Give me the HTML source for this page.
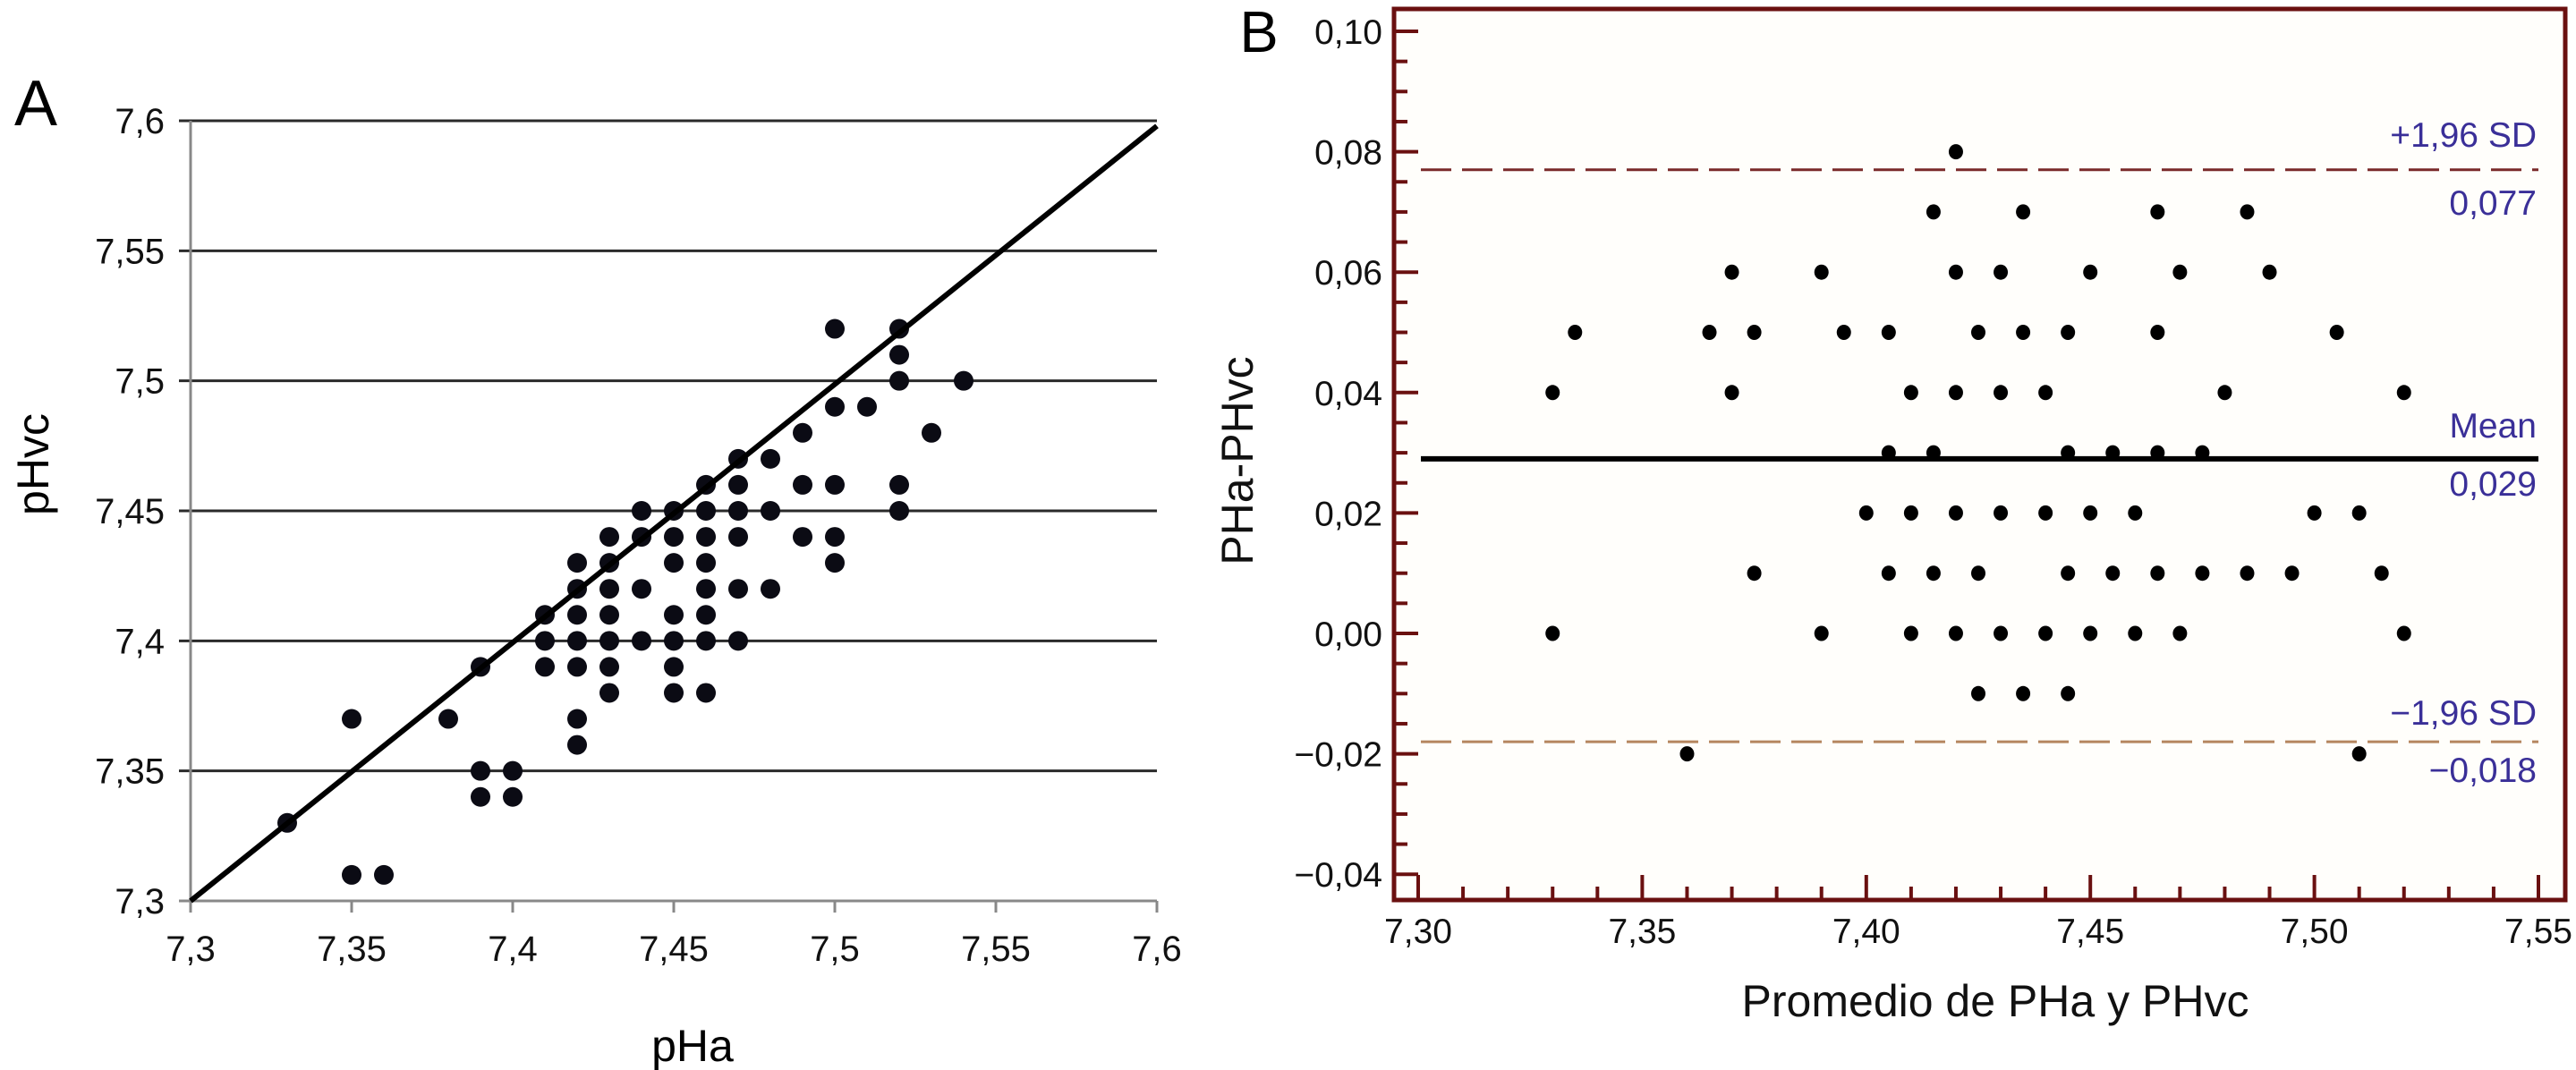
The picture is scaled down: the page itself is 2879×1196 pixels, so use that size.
<!DOCTYPE html>
<html><head><meta charset="utf-8"><style>
html,body{margin:0;padding:0;background:#fff;}
svg{display:block;font-family:"Liberation Sans",sans-serif;}
</style></head><body>
<svg id="fig" width="2879" height="1196" viewBox="0 0 2879 1196" xmlns="http://www.w3.org/2000/svg">
<g id="panelA"></g>
<g id="panelB"></g>
</svg>
<script>
// ---- Panel A data ----
const aTicks = [7.3, 7.35, 7.4, 7.45, 7.5, 7.55, 7.6];
const aTickLabels = ["7,3","7,35","7,4","7,45","7,5","7,55","7,6"];
const aX = [7.33,7.35,7.35,7.36,7.38,7.39,7.39,7.39,7.40,7.40,7.41,7.41,7.41,
 7.42,7.42,7.42,7.42,7.42,7.42,7.42,
 7.43,7.43,7.43,7.43,7.43,7.43,7.43,
 7.44,7.44,7.44,7.44,
 7.45,7.45,7.45,7.45,7.45,7.45,7.45,
 7.46,7.46,7.46,7.46,7.46,7.46,7.46,7.46,
 7.47,7.47,7.47,7.47,7.47,7.47,
 7.48,7.48,7.48,7.49,7.49,7.49,
 7.50,7.50,7.50,7.50,7.50,7.51,
 7.52,7.52,7.52,7.52,7.52,7.53,7.54];
const aY = [7.33,7.37,7.31,7.31,7.37,7.39,7.35,7.34,7.35,7.34,7.41,7.40,7.39,
 7.43,7.42,7.41,7.40,7.39,7.37,7.36,
 7.44,7.43,7.42,7.41,7.40,7.39,7.38,
 7.45,7.44,7.42,7.40,
 7.45,7.44,7.43,7.41,7.40,7.39,7.38,
 7.46,7.45,7.44,7.43,7.42,7.41,7.40,7.38,
 7.47,7.46,7.45,7.44,7.42,7.40,
 7.47,7.45,7.42,7.48,7.46,7.44,
 7.52,7.49,7.46,7.44,7.43,7.49,
 7.52,7.51,7.50,7.46,7.45,7.48,7.50];
const aFitStart = [7.3, 7.3];
const aFitEnd = [7.6, 7.598];

// ---- Panel B data ----
const bXTicks = [7.30,7.35,7.40,7.45,7.50,7.55];
const bXTickLabels = ["7,30","7,35","7,40","7,45","7,50","7,55"];
const bYTicks = [0.10,0.08,0.06,0.04,0.02,0.00,-0.02,-0.04];
const bYTickLabels = ["0,10","0,08","0,06","0,04","0,02","0,00","\u22120,02","\u22120,04"];
const bX = [7.42,
 7.415,7.435,7.465,7.485,
 7.37,7.39,7.42,7.43,7.45,7.47,7.49,
 7.335,7.365,7.375,7.395,7.405,7.425,7.435,7.445,7.465,7.505,
 7.33,7.37,7.41,7.42,7.43,7.44,7.48,7.52,
 7.405,7.415,7.445,7.455,7.465,7.475,
 7.40,7.41,7.42,7.43,7.44,7.45,7.46,7.50,7.51,
 7.375,7.405,7.415,7.425,7.445,7.455,7.465,7.475,7.485,7.495,7.515,
 7.33,7.39,7.41,7.42,7.43,7.44,7.45,7.46,7.47,7.52,
 7.425,7.435,7.445,
 7.36,7.51];
const bY = [0.08,
 0.07,0.07,0.07,0.07,
 0.06,0.06,0.06,0.06,0.06,0.06,0.06,
 0.05,0.05,0.05,0.05,0.05,0.05,0.05,0.05,0.05,0.05,
 0.04,0.04,0.04,0.04,0.04,0.04,0.04,0.04,
 0.03,0.03,0.03,0.03,0.03,0.03,
 0.02,0.02,0.02,0.02,0.02,0.02,0.02,0.02,0.02,
 0.01,0.01,0.01,0.01,0.01,0.01,0.01,0.01,0.01,0.01,0.01,
 0,0,0,0,0,0,0,0,0,0,
 -0.01,-0.01,-0.01,
 -0.02,-0.02];
const bMean = [0.029];
const bUpper = [0.077];
const bLower = [-0.018];
const bRefLabels = ["+1,96 SD","0,077","Mean","0,029","\u22121,96 SD","\u22120,018"];

const NS = "http://www.w3.org/2000/svg";
function mk(parent, tag, attrs, text){
  const e = document.createElementNS(NS, tag);
  for (const k in attrs) e.setAttribute(k, attrs[k]);
  if (text !== undefined) e.textContent = text;
  parent.appendChild(e);
  return e;
}

// ---- Panel A ----
const gA = document.getElementById('panelA');
const ax = v => 213 + (v - 7.3) / 0.3 * 1080;
const ay = v => 1007 - (v - 7.3) / 0.3 * 872;

let t = mk(gA,'text',{x:40,y:140,'font-size':72,'text-anchor':'middle'},'A');



aTicks.forEach((v,i)=>{
  if (i>0){
    const l = mk(gA,'line',{x1:200,x2:1293,y1:ay(v),y2:ay(v),stroke:'#2a2a2a','stroke-width':3});
    
    
  }
  const yl = mk(gA,'text',{x:184,y:ay(v)+14,'font-size':40,'text-anchor':'end',fill:'#111'},aTickLabels[i]);
  
  
  const tk = mk(gA,'line',{x1:ax(v),x2:ax(v),y1:1007,y2:1020,stroke:'#888','stroke-width':3});
  
  
  const xl = mk(gA,'text',{x:ax(v),y:1074,'font-size':40,'text-anchor':'middle',fill:'#111'},aTickLabels[i]);
  
  
});
let axl = mk(gA,'line',{x1:213,x2:213,y1:135,y2:1007,stroke:'#888','stroke-width':3});


axl = mk(gA,'line',{x1:200,x2:1293,y1:1007,y2:1007,stroke:'#888','stroke-width':3});



for (let i=0;i<aX.length;i++){
  const c = mk(gA,'circle',{cx:ax(aX[i]),cy:ay(aY[i]),r:11,fill:'#0b0b14'});
  
  
}
const fit = mk(gA,'line',{x1:ax(aFitStart[0]),y1:ay(aFitStart[1]),x2:ax(aFitEnd[0]),y2:ay(aFitEnd[1]),stroke:'#000','stroke-width':6});



t = mk(gA,'text',{x:774,y:1186,'font-size':50,'text-anchor':'middle'},'pHa');


t = mk(gA,'text',{x:0,y:0,'font-size':50,'text-anchor':'middle',transform:'translate(54,519) rotate(-90)'},'pHvc');



// ---- Panel B ----
const gB = document.getElementById('panelB');
const bx = v => 1585 + (v - 7.30) / 0.25 * 1252;
const by = v => 708 - v / 0.02 * 134.6;
const frameColor = '#6a1010';

t = mk(gB,'text',{x:1407,y:58,'font-size':65,'text-anchor':'middle'},'B');



const frame = mk(gB,'rect',{x:1558,y:10,width:1309,height:996,fill:'#fffefb',stroke:frameColor,'stroke-width':5});



for (let k=0;k<=28;k++){
  const v = 0.10 - k*0.005;
  const major = (k % 4 === 0);
  const tk = mk(gB,'line',{x1:1558,x2:1558+(major?27:15),y1:by(v),y2:by(v),stroke:frameColor,'stroke-width':4});
  
  
}
for (let k=0;k<=25;k++){
  const v = 7.30 + k*0.01;
  const major = (k % 5 === 0);
  const tk = mk(gB,'line',{x1:bx(v),x2:bx(v),y1:1006,y2:1006-(major?28:15),stroke:frameColor,'stroke-width':4});
  
  
}
bYTicks.forEach((v,i)=>{
  const l = mk(gB,'text',{x:1545,y:by(v)+14,'font-size':39,'text-anchor':'end',fill:'#111'},bYTickLabels[i]);
  
  
});
bXTicks.forEach((v,i)=>{
  const l = mk(gB,'text',{x:bx(v),y:1054,'font-size':39,'text-anchor':'middle',fill:'#111'},bXTickLabels[i]);
  
  
});

let rl = mk(gB,'line',{x1:1588,x2:2837,y1:by(bUpper[0]),y2:by(bUpper[0]),stroke:'#7a2a2a','stroke-width':3,'stroke-dasharray':'34 12'});


rl = mk(gB,'line',{x1:1588,x2:2837,y1:by(bLower[0]),y2:by(bLower[0]),stroke:'#b5865f','stroke-width':3,'stroke-dasharray':'34 12'});



for (let i=0;i<bX.length;i++){
  const c = mk(gB,'ellipse',{cx:bx(bX[i]),cy:by(bY[i]),rx:8,ry:8.5,fill:'#000'});
  
  
}
rl = mk(gB,'line',{x1:1588,x2:2837,y1:by(bMean[0]),y2:by(bMean[0]),stroke:'#000','stroke-width':6});



const refY = [by(bUpper[0])-26, by(bUpper[0])+50, by(bMean[0])-24, by(bMean[0])+41, by(bLower[0])-19, by(bLower[0])+45];
const refNames = ['upper-limit-label','upper-limit-value','mean-label','mean-value','lower-limit-label','lower-limit-value'];
bRefLabels.forEach((s,i)=>{
  const l = mk(gB,'text',{x:2835,y:refY[i],'font-size':39,'text-anchor':'end',fill:'#3a2f98'},s);
  
  
});

t = mk(gB,'text',{x:2230,y:1136,'font-size':50,'text-anchor':'middle',fill:'#111'},'Promedio de PHa y PHvc');


t = mk(gB,'text',{x:0,y:0,'font-size':50,'text-anchor':'middle',fill:'#111',transform:'translate(1400,515) rotate(-90)'},'PHa-PHvc');


</script>
</body></html>
